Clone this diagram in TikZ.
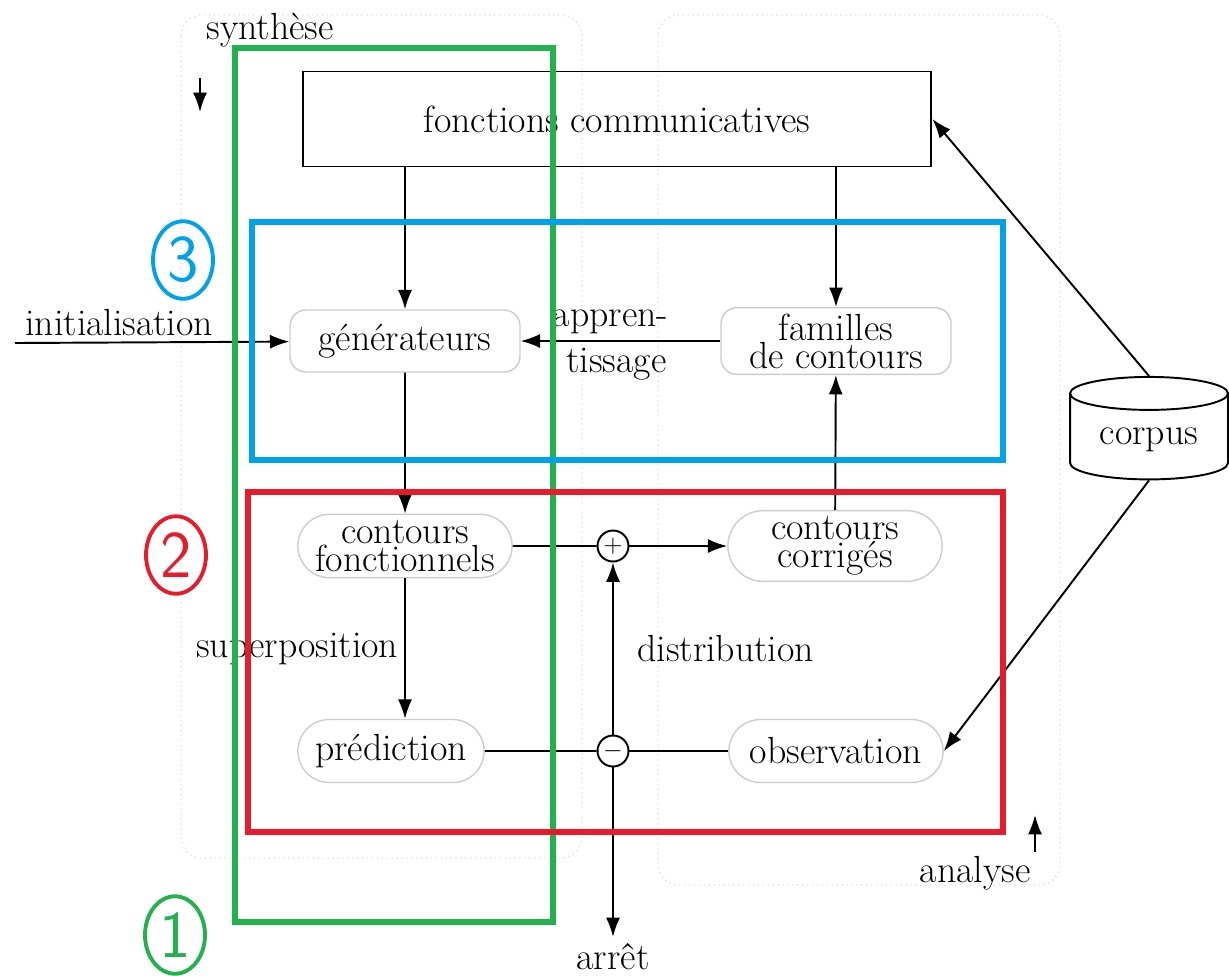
\documentclass[tikz,border=0pt]{standalone}
\usepackage{tikz}
\usetikzlibrary{arrows,arrows.meta,shapes.misc,shapes.geometric}

\definecolor{grn}{RGB}{34,177,76}
\definecolor{blu}{RGB}{0,162,232}
\definecolor{rd}{RGB}{230,28,45}

\begin{document}
\begin{tikzpicture}[x=0.02cm,y=-0.02cm,line width=1.1pt,
  font=\fontsize{21.5}{16}\selectfont,
  lane/.style={draw=black!12,dotted,line width=0.8pt,rounded corners=12pt},
  unit/.style={draw=black!20,line width=0.8pt,rounded corners=9pt,minimum width=4.6cm,minimum height=1.24cm,align=center},
  oval/.style={draw=black!20,line width=0.8pt,rounded rectangle,minimum width=4.52cm,minimum height=1.26cm,align=center},
  op/.style={draw,circle,line width=1.1pt,minimum size=0.62cm,inner sep=0pt,font=\Large},
  frame/.style={line width=3pt},
  num/.style={ellipse,line width=2.2pt,minimum width=1.2cm,minimum height=1.55cm,inner sep=0pt,font=\fontsize{38}{40}\sffamily},
  link/.style={-{Latex[length=11pt,width=8pt]}}]
\useasboundingbox (0,0) rectangle (1229,975);
% lanes
\draw[lane] (181,15) rectangle (582,858);
\draw[lane] (658,15) rectangle (1060,885);
\node (syn) at (270,30) {synthèse};
\node (ana) at (975,873) {analyse};
\coordinate (s1) at (200,78);
\coordinate (s2) at (200,112);
\coordinate (a1) at (1035,852);
\coordinate (a2) at (1035,815);
\draw[link] (s1) -- (s2);
\draw[link] (a1) -- (a2);

\node[draw,line width=1.1pt,minimum width=12.58cm,minimum height=1.9cm] (fc) at (617,119) {fonctions communicatives};
\node[unit] (gen) at (405,341) {générateurs};
\node[unit] (fam) at (836,341) {familles\\de contours};
\node[oval] (cf) at (405,546) {contours\\fonctionnels};
\node[oval] (cc) at (835,546) {contours\\corrigés};
\node[oval,minimum width=3.96cm] (pred) at (391,751) {prédiction};
\node[oval] (obs) at (836,751) {observation};
\node[op] (plus) at (613,546) {$+$};
\node[op] (minus) at (613,751) {$-$};
\node[cylinder,shape border rotate=90,draw,line width=1.1pt,aspect=0.3,minimum width=3.16cm,minimum height=2.05cm] (corpus) at (1149,440) {corpus};
\node (arret) at (613,957) {arrêt};
\coordinate (init) at (15,343);

\draw[link] (fc.south -| gen.north) -- (gen.north);
\draw[link] (fc.south -| fam.north) -- (fam.north);
\draw[link] (init) -- node[above,pos=.38]{initialisation} (gen);
\draw[link] (fam) -- node[pos=.55,above]{appren-} node[pos=.52,below]{tissage} (gen);
\draw[link] (gen) -- (cf);
\draw[link] (cf.south) -- node[left]{superposition} (cf.south |- pred.north);
\draw (cf) -- (plus);
\draw[link] (plus) -- (cc);
\draw[link] (cc) -- (fam);
\draw (pred) -- (minus);
\draw (obs) -- (minus);
\draw[link] (minus) -- node[right=10pt]{distribution} (plus);
\draw[link] (minus) -- (arret);
\draw[link] (corpus.north) -- (fc.east);
\draw[link] (corpus.south) -- (obs.east);

% coloured frames
\draw[frame,grn] (235,48) rectangle (553,922);
\draw[frame,blu] (252,222) rectangle (1003,460);
\draw[frame,rd] (248,492) rectangle (1003,832);
\node[num,draw=blu,text=blu] (three) at (183,260) {3};
\node[num,draw=rd,text=rd] (two) at (176,555) {2};
\node[num,draw=grn,text=grn] (one) at (175,935) {1};
\end{tikzpicture}
\end{document}
